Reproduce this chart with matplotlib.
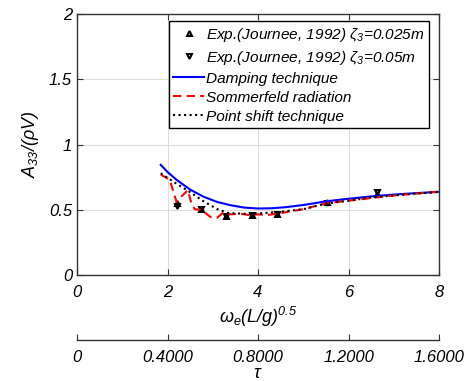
import matplotlib
matplotlib.use("Agg")
import matplotlib.pyplot as plt

plt.rcParams['font.family'] = ['Liberation Sans', 'DejaVu Sans']
plt.rcParams['font.style'] = 'italic'
plt.rcParams['mathtext.fontset'] = 'custom'
plt.rcParams['mathtext.rm'] = 'Liberation Sans:italic'
plt.rcParams['mathtext.it'] = 'Liberation Sans:italic'

# datos experimentales (Journee, 1992)
exp_x = [2.2, 2.75, 3.3, 3.87, 4.42, 5.52, 6.63]
exp_up = [0.55, 0.51, 0.45, 0.46, 0.47, 0.56, 0.62]
exp_down = [0.53, 0.51, 0.45, 0.46, 0.47, 0.55, 0.64]

# damping technique
damp_x = [1.85, 2.0, 2.2, 2.5, 2.8, 3.1, 3.4, 3.7, 4.0, 4.3, 4.6, 5.0, 5.5, 6.0, 6.5, 7.0, 7.5, 8.0]
damp_y = [0.845, 0.79, 0.73, 0.655, 0.6, 0.56, 0.535, 0.517, 0.51, 0.512, 0.52, 0.537, 0.565, 0.585, 0.603, 0.617, 0.628, 0.638]

# sommerfeld radiation
somm_x = [1.85, 2.05, 2.12, 2.2, 2.3, 2.45, 2.52, 2.6, 2.75, 2.95, 3.1, 3.25, 3.4, 3.6, 3.8, 4.0, 4.2, 4.5, 5.0, 5.5, 6.0, 6.5, 7.0, 7.5, 8.0]
somm_y = [0.77, 0.73, 0.65, 0.56, 0.6, 0.65, 0.56, 0.505, 0.5, 0.445, 0.44, 0.485, 0.465, 0.47, 0.46, 0.465, 0.46, 0.475, 0.505, 0.55, 0.57, 0.59, 0.61, 0.625, 0.64]

# point shift technique
shift_x = [1.85, 2.2, 2.5, 2.8, 3.1, 3.35, 3.7, 4.0, 4.5, 5.0, 5.5, 6.0, 6.5, 7.0, 7.5, 8.0]
shift_y = [0.78, 0.70, 0.635, 0.565, 0.505, 0.475, 0.47, 0.472, 0.485, 0.505, 0.548, 0.57, 0.595, 0.61, 0.625, 0.636]

tau_ticks = [0, 0.4, 0.8, 1.2, 1.6]

fig = plt.figure(figsize=(4.71, 3.81), dpi=100)
ax = fig.add_axes([0.1635, 0.278, 0.7686, 0.685])

ax.plot(exp_x, exp_up, '^', color='k', markersize=3.5, markerfacecolor='none',
        markeredgewidth=1.5, label=r'Exp.(Journee, 1992) $\zeta_3$=0.025m')
ax.plot(exp_x, exp_down, 'v', color='k', markersize=3.5, markerfacecolor='none',
        markeredgewidth=1.5, label=r'Exp.(Journee, 1992) $\zeta_3$=0.05m')
ax.plot(damp_x, damp_y, '-', color='#0000ff', lw=1.5, label='Damping technique')
ax.plot(somm_x, somm_y, '--', color='#ff0000', lw=1.5, dashes=(4, 2.5),
        label='Sommerfeld radiation')
ax.plot(shift_x, shift_y, ':', color='k', lw=1.5, label='Point shift technique')

ax.set_xlim(0, 8)
ax.set_ylim(0, 2)
ax.set_xticks([0, 2, 4, 6, 8])
ax.set_yticks([0, 0.5, 1, 1.5, 2])
ax.set_yticklabels(['0', '0.5', '1', '1.5', '2'])
ax.grid(True, color='#dddddd', lw=0.8)
ax.tick_params(direction='in', top=True, right=True, labelsize=12, length=4,
               color='#333333', width=0.8)
ax.tick_params(axis='x', pad=7)
for s in ax.spines.values():
    s.set_color('#333333')
    s.set_linewidth(1.0)
for lbl in ax.get_xticklabels() + ax.get_yticklabels():
    lbl.set_fontstyle('italic')

ax.set_xlabel(r'$\omega_e(L/g)^{0.5}$', fontsize=13, labelpad=4)
ax.set_ylabel(r'$A_{33}/(\rho V)$', fontsize=13, labelpad=6)

leg = ax.legend(loc='upper right', bbox_to_anchor=(0.972, 0.973), fontsize=11.1,
                frameon=True, fancybox=False, edgecolor='k', framealpha=1,
                handlelength=2.0, handletextpad=0.1, borderpad=0.3,
                labelspacing=0.32, borderaxespad=0)
leg.get_frame().set_linewidth(1.0)

# eje secundario tau
ax2 = fig.add_axes([0.1635, 0.1076, 0.7686, 0.001])
ax2.set_xlim(0, 1.6)
ax2.set_ylim(0, 1)
ax2.set_xticks(tau_ticks)
ax2.set_xticklabels(['0', '0.4000', '0.8000', '1.2000', '1.6000'])
ax2.set_yticks([])
for side in ['top', 'left', 'right']:
    ax2.spines[side].set_visible(False)
ax2.spines['bottom'].set_color('#333333')
ax2.spines['bottom'].set_linewidth(1.0)
ax2.tick_params(axis='x', direction='in', labelsize=12, length=4, pad=7,
                color='#333333', width=0.8)
for lbl in ax2.get_xticklabels():
    lbl.set_fontstyle('italic')
ax2.set_xlabel(r'$\tau$', fontsize=13, labelpad=0)
ax2.patch.set_visible(False)

fig.savefig('out.png', dpi=100)
